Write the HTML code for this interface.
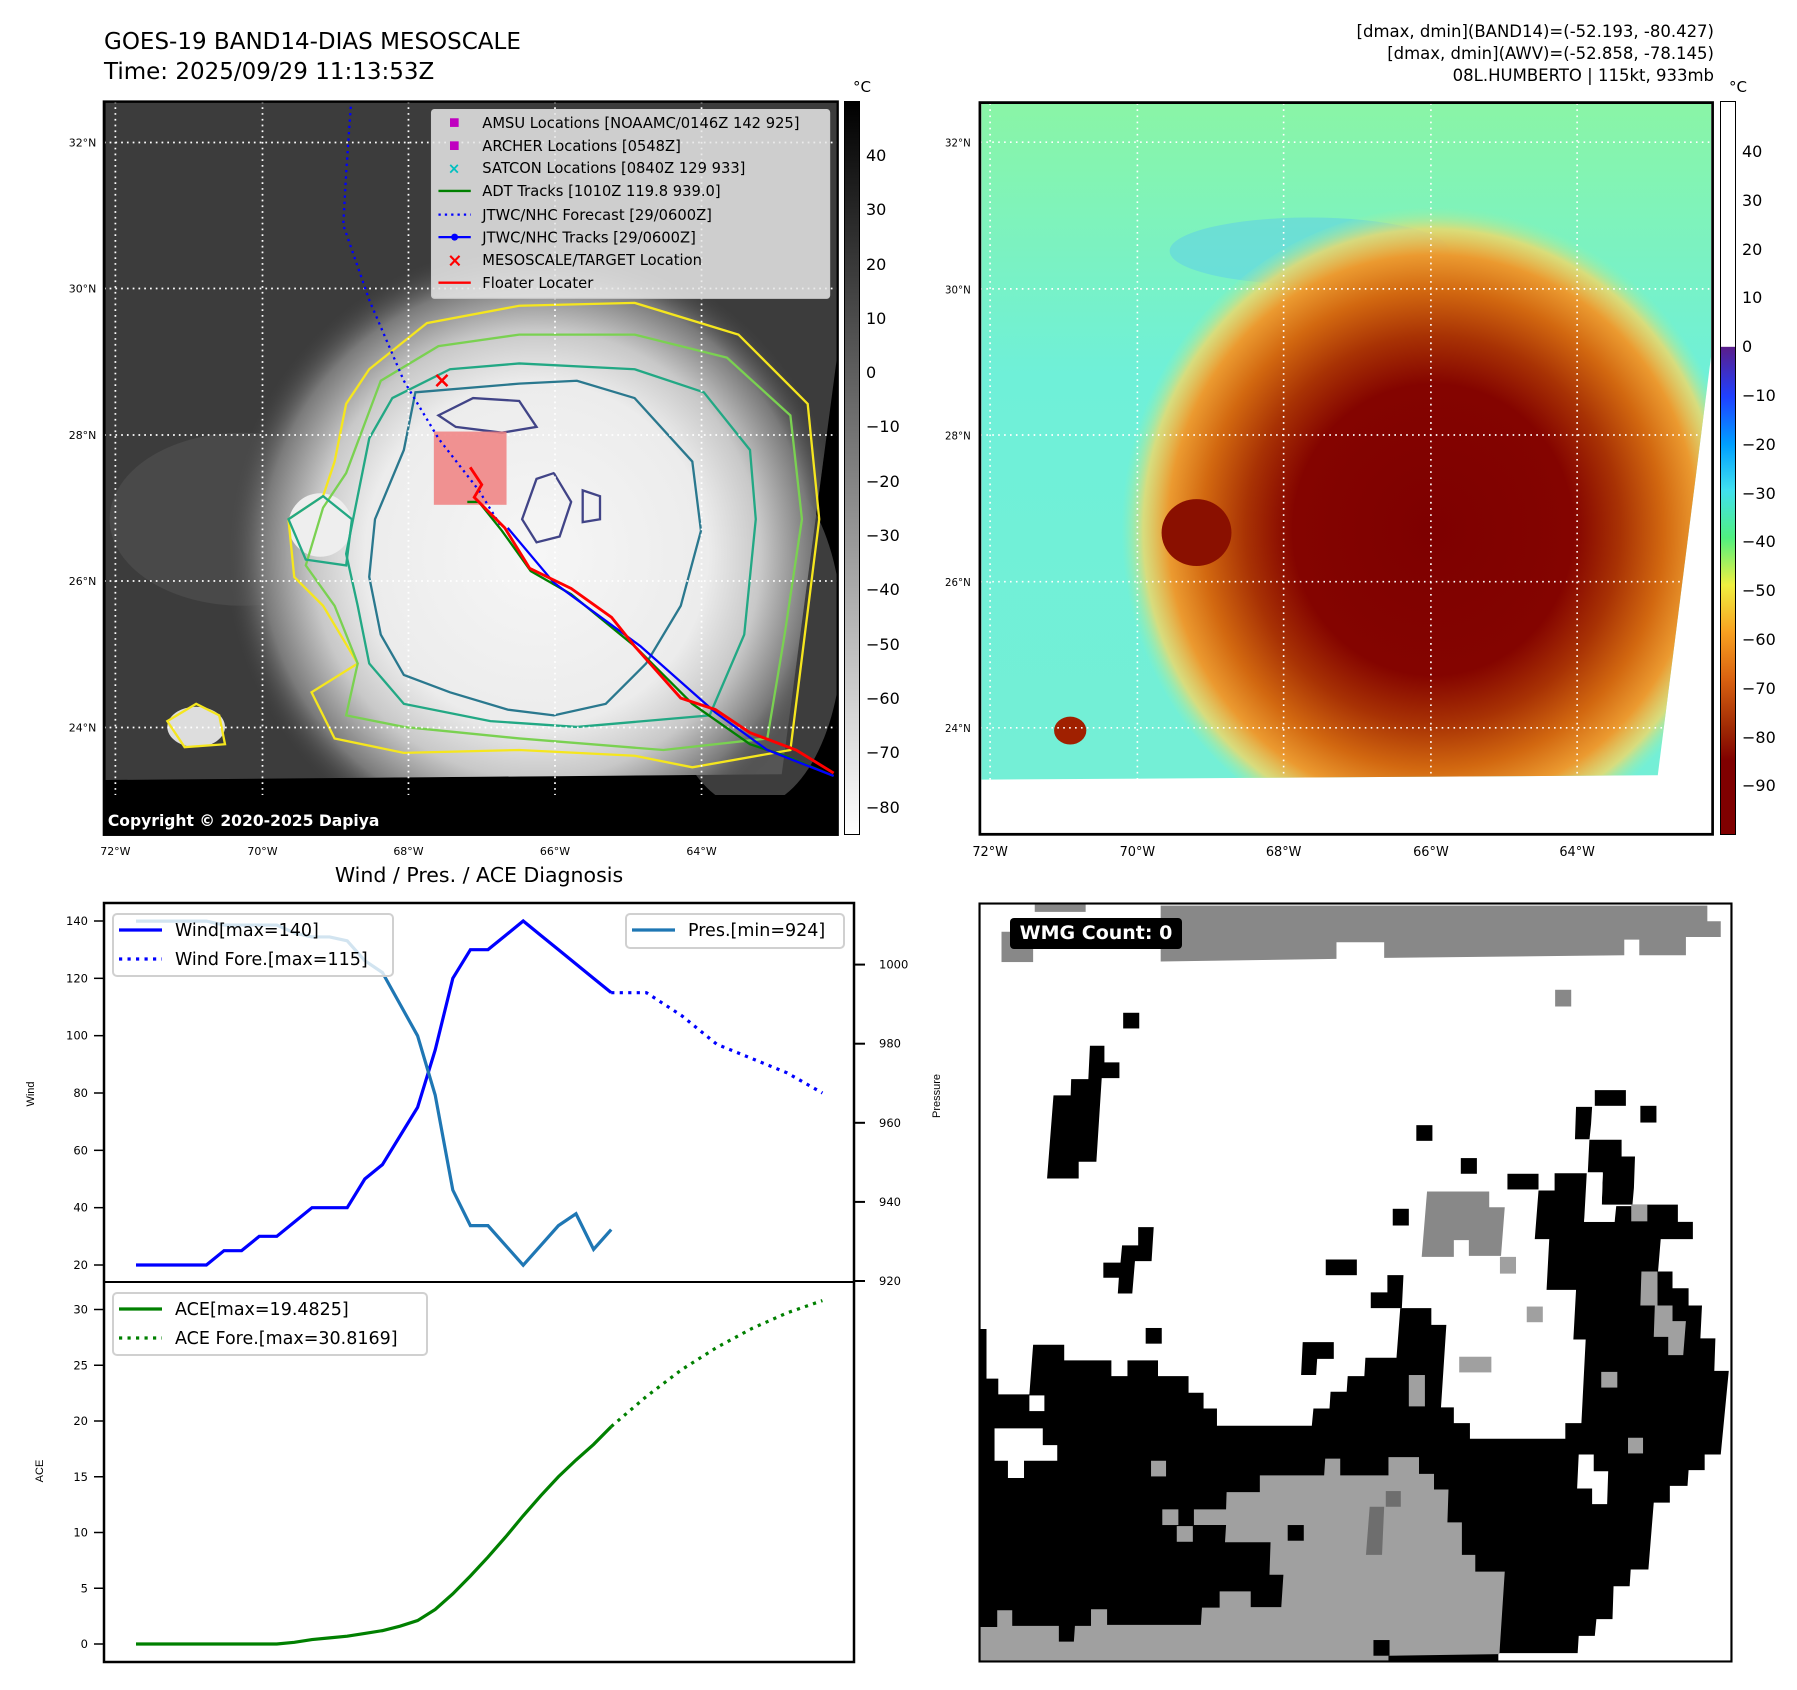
<!DOCTYPE html>
<html><head><meta charset="utf-8">
<style>
html,body{margin:0;padding:0;background:#fff;}
body{width:1797px;height:1690px;position:relative;overflow:hidden;font-family:"DejaVu Sans","Liberation Sans",sans-serif;}
.a{position:absolute;white-space:nowrap;}
.t{font-size:15px;color:#000;}
svg{position:absolute;overflow:visible;}
</style></head><body>

<div class="a" style="left:104px;top:27px;font-size:23px;line-height:30px;">GOES-19 BAND14-DIAS MESOSCALE<br>Time: 2025/09/29 11:13:53Z</div>
<div class="a" style="right:83px;top:21px;font-size:16.5px;line-height:22px;text-align:right;">[dmax, dmin](BAND14)=(-52.193, -80.427)<br>[dmax, dmin](AWV)=(-52.858, -78.145)<br>08L.HUMBERTO | 115kt, 933mb</div>

<!-- LEFT MAP -->
<svg style="left:0;top:0" width="900" height="900" viewBox="0 0 1560 1560">
<defs>
<radialGradient id="stormG" cx="930" cy="960" r="540" gradientUnits="userSpaceOnUse">
<stop offset="0" stop-color="#f6f6f6"/><stop offset="0.55" stop-color="#ececec"/><stop offset="0.72" stop-color="#c8c8c8"/><stop offset="0.88" stop-color="#7a7a7a"/><stop offset="1" stop-color="#444" stop-opacity="0"/>
</radialGradient>
<clipPath id="lclip"><rect x="180" y="176" width="1272" height="1271"/></clipPath>
</defs>
<g clip-path="url(#lclip)">
<rect x="180" y="176" width="1272" height="1271" fill="#000"/>
<polygon points="183,178 1452,178 1452,610 1355,1342 183,1352" fill="#3c3c3c"/>
<ellipse cx="420" cy="900" rx="230" ry="150" fill="#555" opacity="0.5"/>
<ellipse cx="1300" cy="1100" rx="160" ry="300" fill="#666" opacity="0.6"/>
<polygon points="183,178 1452,178 1452,610 1355,1342 183,1352" fill="url(#stormG)"/>
<ellipse cx="340" cy="1260" rx="50" ry="35" fill="#ddd"/>
<ellipse cx="555" cy="910" rx="55" ry="55" fill="#eee"/>
<path d="M640,640 L740,560 L900,530 L1100,525 L1280,580 L1400,700 L1420,900 L1395,1100 L1370,1300 L1200,1330 L1100,1310 L900,1300 L700,1305 L580,1280 L540,1200 L620,1150 L560,1050 L510,1000 L500,900 L560,860 L580,800 L600,700 Z" fill="none" stroke="#f5e61e" stroke-width="4"/>
<path d="M660,660 L760,600 L900,580 L1100,580 L1260,620 L1370,720 L1390,900 L1360,1100 L1330,1280 L1150,1300 L900,1280 L700,1260 L600,1240 L620,1150 L580,1050 L530,980 L560,880 L600,820 Z" fill="none" stroke="#7ad151" stroke-width="4"/>
<path d="M680,690 L780,640 L900,630 L1100,640 L1220,680 L1300,780 L1310,900 L1290,1100 L1230,1240 L1000,1260 L850,1250 L700,1220 L640,1150 L620,1050 L600,960 L620,860 L640,760 Z" fill="none" stroke="#22a884" stroke-width="4"/>
<path d="M720,680 L900,665 L1000,660 L1100,690 L1200,800 L1215,920 L1180,1050 L1120,1150 L1050,1220 L960,1240 L880,1230 L780,1200 L700,1170 L660,1100 L640,1000 L650,900 L700,780 Z" fill="none" stroke="#2a788e" stroke-width="4"/>
<path d="M760,720 L820,690 L900,695 L930,740 L870,750 L790,740 Z" fill="none" stroke="#414487" stroke-width="4"/>
<path d="M930,830 L960,820 L990,870 L970,930 L930,940 L905,900 Z" fill="none" stroke="#414487" stroke-width="4"/>
<path d="M1010,850 L1040,860 L1040,900 L1010,905 Z" fill="none" stroke="#414487" stroke-width="4"/>
<path d="M500,900 L560,860 L610,900 L600,980 L530,970 Z" fill="none" stroke="#22a884" stroke-width="4"/>
<path d="M290,1250 L340,1220 L380,1240 L390,1290 L320,1295 Z" fill="none" stroke="#f5e61e" stroke-width="4"/>
<g stroke="#fff" stroke-width="3" stroke-dasharray="3,7">
<line x1="200" y1="176" x2="200" y2="1447"/><line x1="455" y1="176" x2="455" y2="1447"/><line x1="708" y1="176" x2="708" y2="1447"/><line x1="962" y1="176" x2="962" y2="1447"/><line x1="1216" y1="176" x2="1216" y2="1447"/>
<line x1="180" y1="247" x2="1452" y2="247"/><line x1="180" y1="500" x2="1452" y2="500"/><line x1="180" y1="754" x2="1452" y2="754"/><line x1="180" y1="1007" x2="1452" y2="1007"/><line x1="180" y1="1261" x2="1452" y2="1261"/>
</g>
<rect x="752" y="748" width="126" height="127" fill="#f08080" opacity="0.85"/>
<polyline points="608,185 600,300 595,390 640,520 700,660 760,760 830,850 870,915" fill="none" stroke="#0000ff" stroke-width="4" stroke-dasharray="4,7"/>
<polyline points="810,870 830,870 870,920 920,990 990,1030 1100,1120 1200,1220 1300,1290 1360,1310 1445,1345" fill="none" stroke="#008000" stroke-width="4"/>
<polyline points="880,915 960,1010 1110,1120 1240,1235 1330,1300 1445,1345" fill="none" stroke="#0000ff" stroke-width="4"/>
<polyline points="815,810 835,840 822,862 875,915 918,985 990,1020 1060,1070 1100,1120 1180,1210 1240,1230 1300,1270 1380,1300 1445,1340" fill="none" stroke="#ff0000" stroke-width="5"/>
<text x="750" y="672" fill="#ff0000" font-size="38" font-weight="bold" font-family="DejaVu Sans">×</text>
<rect x="0" y="1378" width="1452" height="70" fill="#000"/>
</g>
<rect x="180" y="176" width="1272" height="1271" fill="none" stroke="#000" stroke-width="4"/>
<g font-family="DejaVu Sans" font-size="25.5">
<rect x="748" y="190" width="690" height="327" rx="5" fill="#e8e8e8" fill-opacity="0.85" stroke="#ccc" stroke-width="2"/>
<rect x="780" y="205" width="15" height="15" fill="#c000c0"/><text x="836" y="222">AMSU Locations [NOAAMC/0146Z 142 925]</text>
<rect x="780" y="245" width="15" height="15" fill="#c000c0"/><text x="836" y="262">ARCHER Locations [0548Z]</text>
<text x="776" y="301" fill="#00c0c0" font-size="26" font-weight="bold">×</text><text x="836" y="300">SATCON Locations [0840Z 129 933]</text>
<line x1="760" y1="331" x2="816" y2="331" stroke="#008000" stroke-width="4"/><text x="836" y="340">ADT Tracks [1010Z 119.8 939.0]</text>
<line x1="760" y1="372" x2="816" y2="372" stroke="#0000ff" stroke-width="4" stroke-dasharray="4,7"/><text x="836" y="381">JTWC/NHC Forecast [29/0600Z]</text>
<line x1="760" y1="411" x2="816" y2="411" stroke="#0000ff" stroke-width="4"/><circle cx="788" cy="411" r="6" fill="#0000ff"/><text x="836" y="420">JTWC/NHC Tracks [29/0600Z]</text>
<text x="775" y="462" fill="#ff0000" font-size="32" font-weight="bold">×</text><text x="836" y="459">MESOSCALE/TARGET Location</text>
<line x1="760" y1="490" x2="816" y2="490" stroke="#ff0000" stroke-width="4"/><text x="836" y="499">Floater Locater</text>
</g>
<text x="187" y="1432" fill="#fff" font-size="27" font-weight="bold" font-family="DejaVu Sans">Copyright © 2020-2025 Dapiya</text>
<g font-size="19" font-family="DejaVu Sans" text-anchor="end">
<text x="167" y="254">32°N</text><text x="167" y="507">30°N</text><text x="167" y="761">28°N</text><text x="167" y="1014">26°N</text><text x="167" y="1268">24°N</text>
</g>
<g font-size="19" font-family="DejaVu Sans" text-anchor="middle">
<text x="200" y="1482">72°W</text><text x="455" y="1482">70°W</text><text x="708" y="1482">68°W</text><text x="962" y="1482">66°W</text><text x="1216" y="1482">64°W</text>
</g>
</svg>
<div class="a" style="left:844px;top:101px;width:14px;height:732px;border:1px solid #000;background:linear-gradient(#000,#fff);"></div>
<div class="a t" style="left:853px;top:78px;">°C</div>
<div class="a" style="left:866px;top:129px;font-size:16px;line-height:54.3px;">40<br>30<br>20<br>10<br>0<br>−10<br>−20<br>−30<br>−40<br>−50<br>−60<br>−70<br>−80</div>

<!-- RIGHT MAP -->
<svg style="left:960px;top:0" width="837" height="870" viewBox="0 0 1557 1560" preserveAspectRatio="none">
<defs>
<linearGradient id="bgR" x1="0" y1="0" x2="0" y2="1"><stop offset="0" stop-color="#8af5a6"/><stop offset="0.4" stop-color="#6ff0d8"/><stop offset="1" stop-color="#74efd6"/></linearGradient>
<radialGradient id="stR" cx="880" cy="950" r="580" gradientUnits="userSpaceOnUse">
<stop offset="0" stop-color="#7e0000"/><stop offset="0.45" stop-color="#840400"/><stop offset="0.6" stop-color="#a83204"/><stop offset="0.74" stop-color="#d26810"/><stop offset="0.85" stop-color="#eb9a30"/><stop offset="0.93" stop-color="#f0d868" stop-opacity="0.8"/><stop offset="1" stop-color="#a0f0a0" stop-opacity="0"/>
</radialGradient>
<clipPath id="rclip"><polygon points="40,185 1397,185 1397,640 1298,1390 40,1398"/></clipPath>
</defs>
<polygon points="40,185 1397,185 1397,640 1298,1390 40,1398" fill="url(#bgR)"/>
<g clip-path="url(#rclip)">
<ellipse cx="650" cy="450" rx="260" ry="60" fill="#58c8f0" opacity="0.45"/>
<ellipse cx="900" cy="950" rx="600" ry="580" fill="url(#stR)"/>
<ellipse cx="440" cy="955" rx="65" ry="60" fill="#8a1000"/>
<ellipse cx="205" cy="1310" rx="30" ry="25" fill="#a02000"/>
</g>
<g stroke="#fff" stroke-width="3" stroke-dasharray="3,8">
<line x1="56" y1="185" x2="56" y2="1495"/><line x1="330" y1="185" x2="330" y2="1495"/><line x1="602" y1="185" x2="602" y2="1495"/><line x1="876" y1="185" x2="876" y2="1495"/><line x1="1148" y1="185" x2="1148" y2="1495"/>
<line x1="38" y1="255" x2="1400" y2="255"/><line x1="38" y1="518" x2="1400" y2="518"/><line x1="38" y1="780" x2="1400" y2="780"/><line x1="38" y1="1043" x2="1400" y2="1043"/><line x1="38" y1="1305" x2="1400" y2="1305"/>
</g>
<rect x="37" y="184" width="1363" height="1312" fill="none" stroke="#000" stroke-width="5"/>
<g font-size="24" font-family="DejaVu Sans" text-anchor="middle">
<text x="56" y="1535">72°W</text><text x="330" y="1535">70°W</text><text x="602" y="1535">68°W</text><text x="876" y="1535">66°W</text><text x="1148" y="1535">64°W</text>
</g>
<g font-size="19" font-family="DejaVu Sans" text-anchor="end">
<text x="20" y="263">32°N</text><text x="20" y="526">30°N</text><text x="20" y="788">28°N</text><text x="20" y="1051">26°N</text><text x="20" y="1313">24°N</text>
</g>
</svg>
<div class="a" style="left:1720px;top:101px;width:14px;height:732px;border:1px solid #000;background:linear-gradient(#fff 0%,#fff 33.4%,#5a1e8c 33.5%,#2040ff 40.2%,#00a0ff 46.8%,#40e0f0 53%,#50f080 59.5%,#f0f040 66%,#f8a020 72.5%,#d86010 79%,#a02a04 85.5%,#800000 90%,#800000 100%);"></div>
<div class="a t" style="left:1729px;top:78px;">°C</div>
<div class="a" style="left:1742px;top:128px;font-size:16px;line-height:48.8px;">40<br>30<br>20<br>10<br>0<br>−10<br>−20<br>−30<br>−40<br>−50<br>−60<br>−70<br>−80<br>−90</div>

<!-- WMG -->
<svg style="left:979px;top:903px" width="753" height="759" viewBox="36 45 1405 1452" preserveAspectRatio="none">
<rect x="36" y="45" width="1405" height="1452" fill="#fff"/>
<g fill="#888">
<polygon points="375,50 1395,50 1395,80 1420,80 1420,110 1355,110 1355,145 1268,145 1268,115 1240,115 1240,145 792,150 792,120 703,120 703,152 375,157"/>
<rect x="78" y="100" width="59" height="58"/><rect x="140" y="48" width="95" height="14"/>
<rect x="1111" y="211" width="30" height="32"/>
</g>
<g fill="#000">
<polygon points="36,860 50,860 50,955 72,955 72,985 130,985 137,890 195,890 195,920 283,920 283,950 313,950 313,920 370,920 370,950 427,950 427,982 455,982 455,1012 480,1012 480,1045 657,1045 660,1012 690,1012 692,980 722,980 724,950 755,950 757,915 815,915 822,820 880,820 880,852 908,852 898,1010 922,1010 922,1040 952,1040 952,1070 1130,1070 1130,1040 1160,1040 1168,880 1145,880 1150,785 1095,785 1100,688 1073,688 1080,595 1110,595 1110,562 1170,562 1165,655 1222,655 1225,625 1255,625 1258,590 1260,530 1235,530 1235,498 1175,498 1178,468 1180,435 1150,435 1148,497 1175,497 1172,560 1200,560 1198,622 1287,622 1340,622 1340,655 1368,655 1368,688 1308,688 1303,750 1330,750 1330,782 1360,782 1360,815 1385,815 1382,878 1410,878 1408,940 1435,940 1420,1100 1390,1100 1390,1130 1360,1130 1358,1160 1325,1160 1325,1192 1295,1192 1285,1320 1252,1320 1250,1352 1220,1352 1218,1415 1188,1415 1185,1447 1155,1447 1153,1480 1005,1480 1005,1497 36,1497"/>
<polygon points="243,318 270,318 270,350 298,350 298,380 265,380 255,540 222,540 222,572 163,572 175,413 207,413 208,382 240,382"/>
<rect x="305" y="255" width="30" height="30"/><rect x="852" y="470" width="30" height="30"/><rect x="935" y="533" width="30" height="30"/><rect x="808" y="630" width="30" height="32"/><rect x="683" y="727" width="58" height="30"/>
<polygon points="798,757 828,757 825,820 767,820 767,790 798,790"/>
<polygon points="333,665 362,665 358,730 327,730 322,792 295,792 297,762 268,762 268,733 300,733 303,700 333,700"/>
<rect x="347" y="858" width="30" height="30"/>
<polygon points="640,885 698,885 698,917 667,917 665,948 637,948"/>
<rect x="1022" y="563" width="58" height="30"/><rect x="1185" y="403" width="58" height="30"/><rect x="1270" y="433" width="30" height="32"/>
</g>
<g fill="#fff">
<polygon points="65,1050 155,1050 155,1082 182,1082 182,1112 120,1112 120,1145 90,1145 90,1112 65,1112"/>
<rect x="130" y="987" width="28" height="30"/>
<polygon points="1155,1100 1183,1100 1183,1132 1210,1132 1208,1195 1180,1195 1180,1165 1152,1165"/>
<polygon points="1175,562 1200,562 1198,622 1222,625 1222,655 1165,655"/>
</g>
<g fill="#a0a0a0">
<polygon points="36,1430 70,1430 70,1398 98,1398 98,1428 185,1428 185,1458 213,1458 215,1428 245,1428 245,1396 275,1396 275,1426 450,1426 452,1393 485,1393 485,1362 543,1362 543,1392 600,1392 604,1330 578,1330 580,1268 495,1268 497,1235 437,1235 437,1205 497,1205 498,1172 560,1172 560,1140 680,1140 682,1108 710,1108 710,1140 800,1140 800,1105 857,1105 857,1137 885,1137 885,1167 912,1167 910,1230 937,1230 937,1292 962,1292 962,1324 1017,1324 1007,1482 800,1485 800,1497 36,1497"/>
<rect x="357" y="1112" width="28" height="30"/><rect x="378" y="1205" width="30" height="30"/><rect x="405" y="1237" width="30" height="30"/>
<rect x="1247" y="1068" width="28" height="30"/><rect x="1197" y="942" width="30" height="30"/><rect x="838" y="948" width="30" height="60"/>
<rect x="932" y="913" width="60" height="30"/><rect x="1058" y="817" width="30" height="30"/><rect x="1008" y="722" width="30" height="32"/><rect x="1253" y="622" width="30" height="32"/>
<polygon points="1272,750 1302,750 1302,815 1330,815 1330,845 1355,845 1350,910 1322,910 1322,875 1295,875 1297,815 1270,815"/>
</g>
<polygon points="872,597 988,597 988,627 1017,627 1010,720 950,720 950,690 922,690 922,722 862,722" fill="#888"/>
<g fill="#000"><rect x="612" y="1235" width="30" height="30"/><rect x="772" y="1455" width="30" height="30"/></g>
<g fill="#6e6e6e"><polygon points="765,1200 792,1200 788,1292 758,1292"/><rect x="795" y="1170" width="28" height="30"/></g>
<rect x="37" y="46" width="1403" height="1450" fill="none" stroke="#000" stroke-width="4"/>
</svg>
<div class="a" style="left:1010px;top:918px;width:172px;height:31px;background:#000;border-radius:4px;color:#fff;font-weight:bold;font-family:'DejaVu Sans',sans-serif;font-size:19px;line-height:31px;text-align:center;">WMG Count: 0</div>

<!-- DIAGNOSIS CHART -->
<div class="a" style="left:479px;top:863px;transform:translateX(-50%);font-size:20.5px;">Wind / Pres. / ACE Diagnosis</div>
<svg id="chart" style="left:0;top:0" width="1797" height="1690"></svg>

<script>
const windIdx = [0,1,2,3,4,5,6,7,8,9,10,11,12,13,14,15,16,17,18,19,20,21,22,23,24,25,26,27];
const windObs = [20,20,20,20,20,25,25,30,30,35,40,40,40,50,55,65,75,95,120,130,130,135,140,135,130,125,120,115];
const presObs = [1011,1011,1011,1011,1011,1010,1010,1010,1010,1008,1007,1007,1006,1001,998,990,982,967,943,934,934,929,924,929,934,937,928,933];
const aceObs = [0,0,0,0,0,0,0,0,0,0.15,0.4,0.55,0.7,0.95,1.2,1.6,2.1,3.1,4.5,6.1,7.8,9.6,11.5,13.3,15.0,16.5,17.9,19.5];
const fcstIdx = [27,29,31,33,35,37,39];
const windFcst = [115,115,107,97,92,87,80];
const aceFcst = [19.5,22.2,24.6,26.6,28.3,29.7,30.8];
const windTicks = [20,40,60,80,100,120,140];
const presTicks = [920,940,960,980,1000];
const aceTicks = [0,5,10,15,20,25,30];

const X0=104, X1=854, TOP=903, MID=1282, BOT=1662;
const xs = i => 136 + i*17.6;
const yW = v => 921 + (140-v)*(1265-921)/120;
const yP = p => 964.6 + (1000-p)*(1281-964.6)/80;
const yA = a => 1644 - a*(1644-1309.5)/30;
const NS='http://www.w3.org/2000/svg';
const svg=document.getElementById('chart');
const FF='DejaVu Sans';
function mk(tag, attrs){const e=document.createElementNS(NS,tag);for(const k in attrs)e.setAttribute(k,attrs[k]);svg.appendChild(e);return e;}
function pts(idx, vals, f){return idx.map((i,k)=>xs(i)+','+f(vals[k])).join(' ');}

let e;
e=mk('rect',{x:X0,y:TOP,width:X1-X0,height:BOT-TOP,fill:'#fff',stroke:'#000','stroke-width':2.5});


e=mk('line',{x1:X0,y1:MID,x2:X1,y2:MID,stroke:'#000','stroke-width':2});



windTicks.forEach(v=>{
  mk('line',{x1:X0-10,y1:yW(v),x2:X0,y2:yW(v),stroke:'#000','stroke-width':1.5});
  e=mk('text',{x:X0-16,y:yW(v)+4,'text-anchor':'end','font-size':11.5,'font-family':FF});e.textContent=v;
  
  
});
presTicks.forEach(v=>{
  mk('line',{x1:X1,y1:yP(v),x2:X1+11,y2:yP(v),stroke:'#000','stroke-width':2});
  e=mk('text',{x:X1+25,y:yP(v)+4,'font-size':11.5,'font-family':FF});e.textContent=v;
  
  
});
aceTicks.forEach(v=>{
  mk('line',{x1:X0-10,y1:yA(v),x2:X0,y2:yA(v),stroke:'#000','stroke-width':1.5});
  e=mk('text',{x:X0-16,y:yA(v)+4,'text-anchor':'end','font-size':11.5,'font-family':FF});e.textContent=v;
  
  
});
e=mk('text',{x:0,y:0,transform:'translate(34,1094) rotate(-90)','text-anchor':'middle','font-size':11,'font-family':'Liberation Sans'});e.textContent='Wind';


e=mk('text',{x:0,y:0,transform:'translate(43,1471) rotate(-90)','text-anchor':'middle','font-size':11,'font-family':'Liberation Sans'});e.textContent='ACE';


e=mk('text',{x:0,y:0,transform:'translate(940,1096) rotate(-90)','text-anchor':'middle','font-size':11,'font-family':'Liberation Sans'});e.textContent='Pressure';



e=mk('polyline',{points:pts(windIdx,windObs,yW),fill:'none',stroke:'#0000ff','stroke-width':3.2});


e=mk('polyline',{points:pts(fcstIdx,windFcst,yW),fill:'none',stroke:'#0000ff','stroke-width':3.2,'stroke-dasharray':'3.2,5.3'});


e=mk('polyline',{points:pts(windIdx,presObs,yP),fill:'none',stroke:'#1f77b4','stroke-width':3.2});


e=mk('polyline',{points:pts(windIdx,aceObs,yA),fill:'none',stroke:'#008000','stroke-width':3.2});


e=mk('polyline',{points:pts(fcstIdx,aceFcst,yA),fill:'none',stroke:'#008000','stroke-width':3.2,'stroke-dasharray':'3.2,5.3'});



function legend(name,x,y,w,h,items){
  e=mk('rect',{x:x,y:y,width:w,height:h,rx:4,fill:'#fff','fill-opacity':0.8,stroke:'#d0d0d0','stroke-width':2});
  
  
  items.forEach((it,k)=>{
    const cy=y+16+k*29;
    const a={x1:x+6,y1:cy,x2:x+49,y2:cy,stroke:it[1],'stroke-width':3.2};
    if(it[2])a['stroke-dasharray']='3.2,5.3';
    mk('line',a);
    const t=mk('text',{x:x+62,y:cy+6,'font-size':17.5,'font-family':FF});t.textContent=it[0];
  });
}
legend('wind-legend',113,914,280,62,[['Wind[max=140]','#0000ff',0],['Wind Fore.[max=115]','#0000ff',1]]);
legend('pressure-legend',626,914,218,34,[['Pres.[min=924]','#1f77b4',0]]);
legend('ace-legend',113,1293,314,62,[['ACE[max=19.4825]','#008000',0],['ACE Fore.[max=30.8169]','#008000',1]]);
</script>
</body></html>
